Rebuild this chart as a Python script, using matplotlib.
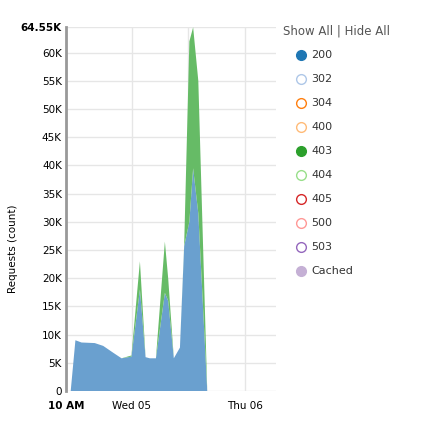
import matplotlib.pyplot as plt
from matplotlib.lines import Line2D

# hours since 10 AM Tue
hours = [1.0, 2.0, 3.3, 6.1, 7.9, 10.0, 11.8, 13.9, 15.7, 16.9, 17.8, 19.1,
         21.0, 21.7, 22.9, 24.2, 25.1, 26.2, 27.0, 28.1, 30.0]
req_200 = [0, 9000, 8600, 8500, 8000, 6800, 5800, 6100, 18000, 6000, 5800, 5800,
           17400, 16000, 5800, 7700, 25700, 30000, 39500, 31500, 0]
req_403 = [0, 0, 0, 0, 0, 0, 0, 200, 5000, 0, 0, 0,
           9100, 4000, 0, 0, 300, 32000, 25000, 23500, 0]

legend_labels = ["200", "302", "304", "400", "403", "404", "405", "500", "503", "Cached"]
legend_colors = ["#1f77b4", "#aec7e8", "#ff7f0e", "#ffbb78", "#2ca02c",
                 "#98df8a", "#d62728", "#ff9896", "#9467bd", "#c5b0d5"]
legend_filled = [True, False, False, False, True, False, False, False, False, True]

W, H = 422, 445
fig = plt.figure(figsize=(W / 100, H / 100), dpi=100)
ax = fig.add_axes([66 / W, 1 - 391 / H, (276 - 66) / W, (391 - 27) / H])

ax.stackplot(hours, req_200, req_403, colors=["#6aa0cf", "#66bb66"], linewidth=0)

ax.set_xlim(0, 44.6)
ax.set_ylim(0, 64550)
yt = list(range(0, 65000, 5000)) + [64550]
ax.set_yticks(yt)
ax.set_yticklabels(["0"] + [f"{v // 1000}K" for v in yt[1:-1]] + ["64.55K"], fontsize=7.5)
ax.get_yticklabels()[-1].set_fontweight("bold")
ax.set_xticks([0, 14, 38])
ax.set_xticklabels(["10 AM", "Wed 05", "Thu 06"], fontsize=7.5)
ax.get_xticklabels()[0].set_fontweight("bold")
ax.set_xticks([26], minor=True)
ax.tick_params(axis="y", length=0, pad=3)
ax.tick_params(axis="x", length=0, pad=7)
ax.tick_params(which="minor", length=0)
ax.grid(True, which="both", color="#e6e6e6", linewidth=1)
ax.set_axisbelow(True)
for s in ["top", "right", "bottom"]:
    ax.spines[s].set_visible(False)
ax.spines["left"].set_color("#999999")
ax.spines["left"].set_linewidth(2)
ax.set_ylabel("Requests (count)", fontsize=7.5)
ax.yaxis.set_label_coords(-0.23, 0.39)

fig.text(283 / W, 1 - 31 / H, "Show All | Hide All", fontsize=8.5, color="#555555", va="center")
for i, (lab, col, filled) in enumerate(zip(legend_labels, legend_colors, legend_filled)):
    y = 1 - (55 + i * 24) / H
    fig.add_artist(Line2D([301 / W], [y], marker="o", markersize=7, transform=fig.transFigure,
                          markerfacecolor=col if filled else "white", markeredgecolor=col,
                          markeredgewidth=1, linestyle="none"))
    fig.text(311 / W, y, lab, fontsize=8, color="#333333", va="center")

fig.savefig("out.png", dpi=100)
